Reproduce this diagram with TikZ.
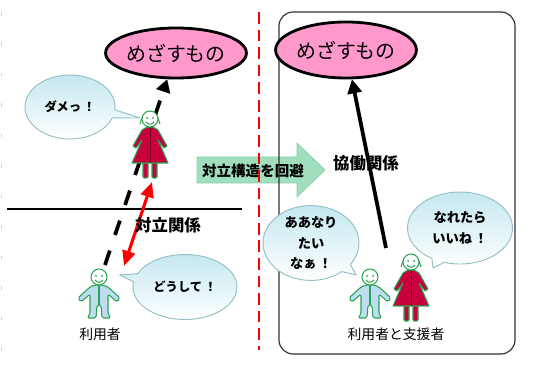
\documentclass[tikz,border=0pt]{standalone}
\usepackage{fontspec}
\newfontfamily\jp{Noto Sans CJK JP}
\usepackage{tikz}
\usetikzlibrary{arrows.meta,shapes.geometric,shapes.callouts}

\definecolor{goalpink}{RGB}{255,153,204}
\definecolor{bubbleedge}{RGB}{150,190,196}
\definecolor{bubbletop}{RGB}{196,232,240}
\definecolor{avoidgreen}{RGB}{160,222,190}
\definecolor{avoidedge}{RGB}{135,205,168}
\definecolor{suitblue}{RGB}{190,220,242}
\definecolor{dressred}{RGB}{200,0,60}
\definecolor{figgreen}{RGB}{40,165,80}

\newcommand\bang{\,^^^^ff01}

\tikzset{
  figline/.style={draw=figgreen,line width=0.9pt,line join=round},
  user/.pic={
    \draw[figline,fill=suitblue,rounded corners=1.5pt]
      (-4,-8) -- (-9,-6) -- (-21,5) -- (-18,9) -- (-9,1) -- (-9,21) -- (-12,25)
      -- (-3,25) -- (-2,12) -- (2,12) -- (3,25) -- (12,25) -- (9,21) -- (9,1)
      -- (18,9) -- (21,5) -- (9,-6) -- (4,-8) -- cycle;
    \draw[figline] (0,-8) -- (0,12);
    \draw[figline,fill=white] (0,-16) circle[radius=8];
    \fill[figgreen] (-3,-17) circle[radius=1] (3,-17) circle[radius=1];
    \draw[figline] (-4,-13) .. controls (-2,-10) and (2,-10) .. (4,-13);
  },
  staff/.pic={
    \draw[figline,fill=dressred,rounded corners=1pt] (-7,16) rectangle (-2,33);
    \draw[figline,fill=dressred,rounded corners=1pt] (2,16) rectangle (7,33);
    \draw[figline,fill=dressred]
      (-3,-18) -- (-8,-15) -- (-17,1) -- (-14,3) -- (-8,-5) -- (-18,18)
      -- (18,18) -- (8,-5) -- (14,3) -- (17,1) -- (8,-15) -- (3,-18) -- cycle;
    \draw[dressred!60!black,line width=0.7pt] (0,-18) -- (0,18);
    \draw[figline,fill=white] (0,-26) circle[radius=8];
    \draw[figline] (-8,-27) -- (-10,-21) (8,-27) -- (10,-21);
    \fill[figgreen] (-3,-27) circle[radius=1] (3,-27) circle[radius=1];
    \draw[figline] (-4,-23) .. controls (-2,-20) and (2,-20) .. (4,-23);
  }
}

\begin{document}
\begin{tikzpicture}[x=0.03cm,y=-0.03cm,
  goal/.style={ellipse,draw,line width=2.4pt,fill=goalpink,inner sep=0pt,
    minimum width=119*0.03cm,font=\jp\fontsize{17}{20}\selectfont},
  bubble/.style={ellipse callout,draw=bubbleedge,line width=0.8pt,
    top color=bubbletop,bottom color=white,inner sep=0pt,align=center,
    font=\jp\bfseries\fontsize{10.5}{15}\selectfont},
  relation/.style={font=\jp\bfseries\fontsize{14}{16}\selectfont},
  who/.style={font=\jp\fontsize{11.8}{14}\selectfont},
  dashedarrow/.style={line width=3.2pt,dash pattern=on 13pt off 14pt,
    -{Triangle[length=11pt,width=12pt]}},
  solidarrow/.style={line width=3.2pt,-{Triangle[length=12pt,width=12pt]}},
  clash/.style={red,line width=2.6pt,
    {Triangle[length=13pt,width=11pt]}-{Triangle[length=13pt,width=11pt]}}]

  \useasboundingbox (0,0) rectangle (552,371);
  \draw[gray!35,line width=0.8pt,dash pattern=on 3pt off 23pt] (1,12) -- (1,371);

  \coordinate (lineA) at (7,209);
  \coordinate (lineB) at (242,209);
  \draw[line width=1.8pt] (lineA) -- (lineB);

  \fill[avoidgreen,draw=avoidedge,line width=0.6pt]
    (197,157) -- (297,157) -- (297,143) -- (325,170) -- (297,197) -- (297,183) -- (197,183) -- cycle;
  \node[font=\jp\bfseries\fontsize{12.4}{14}\selectfont] (avoid) at (253,171) {対立構造を回避};

  \coordinate (splitA) at (259,12);
  \coordinate (splitB) at (259,350);
  \draw[red,line width=2pt,dash pattern=on 10pt off 5pt] (splitA) -- (splitB);

  \draw[black!80,line width=1pt,rounded corners=12pt] (279,12) rectangle (515,354);

  \node[goal,minimum height=50*0.03cm] (goalL) at (176,53) {めざすもの};
  \node[goal,minimum height=56*0.03cm] (goalR) at (346,50) {めざすもの};

  \coordinate (startL) at (105,265);
  \draw[dashedarrow] (startL) -- (goalL);
  \pic (staffL) at (150,145) {staff};
  \coordinate (clashA) at (124,266);
  \coordinate (clashB) at (152,182);
  \draw[clash] (clashA) -- (clashB);
  \pic (userL) at (99,293) {user};

  \coordinate (startR) at (386,248);
  \draw[solidarrow] (startR) -- (goalR);
  \pic (userR) at (370,293) {user};
  \pic (staffR) at (411,288) {staff};

  \node[bubble,minimum width=90*0.03cm,minimum height=64*0.03cm,
    callout absolute pointer={(140,118)}] (no) at (70,107) {ダメっ\bang};
  \node[bubble,minimum width=104*0.03cm,minimum height=65*0.03cm,
    callout absolute pointer={(120,275)}] (why) at (185,287) {どうして\bang};
  \node[bubble,minimum width=96*0.03cm,minimum height=66*0.03cm,
    font=\jp\bfseries\fontsize{11.3}{17.5}\selectfont,
    callout absolute pointer={(356,275)}] (wish) at (311,243) {ああなり\\たい\\なぁ\bang};
  \node[bubble,minimum width=105*0.03cm,minimum height=72*0.03cm,
    font=\jp\bfseries\fontsize{11.3}{17.5}\selectfont,
    callout absolute pointer={(433,268)}] (hope) at (460,228) {なれたら\\いいね\bang};

  \node[relation] (conflict) at (168,225) {対立関係};
  \node[relation] (collab) at (366,163) {協働関係};
  \node[who] (userLbl) at (100,334) {利用者};
  \node[who] (pairLbl) at (396,334) {利用者と支援者};
\end{tikzpicture}
\end{document}
